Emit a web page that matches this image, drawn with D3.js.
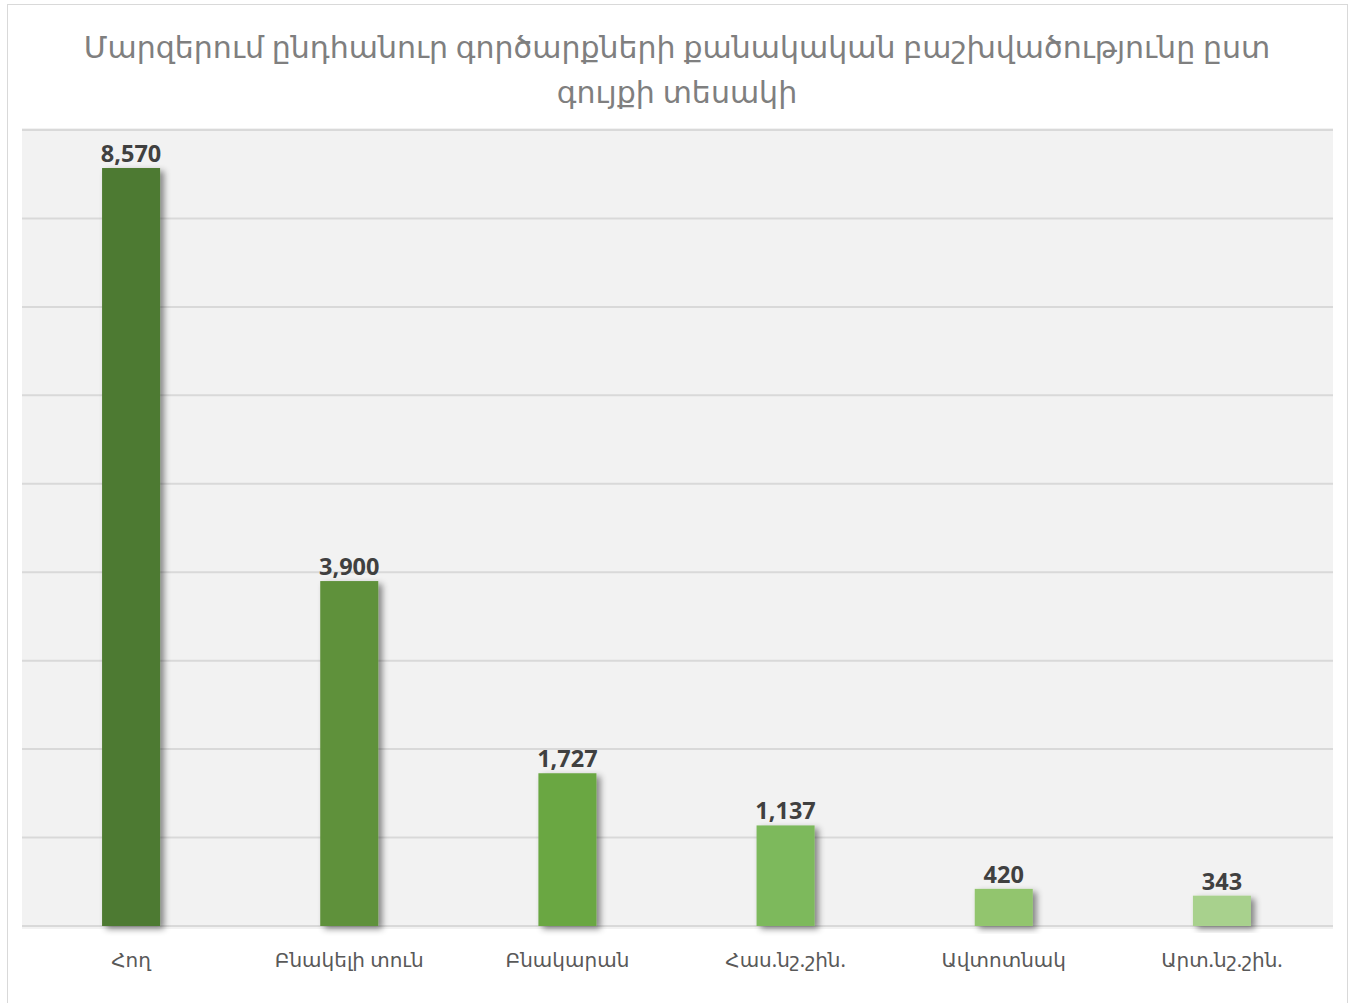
<!DOCTYPE html>
<html><head><meta charset="utf-8">
<script src="https://cdn.jsdelivr.net/npm/d3@7"></script>
<style>html,body{margin:0;padding:0;background:#fff;}svg{display:block;}</style>
</head><body>
<script>
const categories = ["Հող","Բնակելի տուն","Բնակարան","Հաս.նշ.շին.","Ավտոտնակ","Արտ.նշ.շին."];
const values = [8570,3900,1727,1137,420,343];
const barColors = ["#4e7a31","#5e913a","#6aa743","#7db95b","#92c56e","#a8d18d"];
const titleLines = ["Մարզերում ընդհանուր գործարքների քանակական բաշխվածությունը ըստ","գույքի տեսակի"];
const yTicks = [0,1000,2000,3000,4000,5000,6000,7000,8000,9000];

const W=1353,H=1003;
const svg=d3.select("body").append("svg").attr("width",W).attr("height",H);
const defs=svg.append("defs");
const f=defs.append("filter").attr("id","sh").attr("x","-20%").attr("y","-20%").attr("width","160%").attr("height","140%");
f.append("feDropShadow").attr("dx",4).attr("dy",3).attr("stdDeviation",3).attr("flood-color","#000").attr("flood-opacity",0.45);

svg.append("rect").attr("x",7.5).attr("y",4.5).attr("width",1340).attr("height",1010).attr("fill","#fff").attr("stroke","#d9d9d9").attr("stroke-width",1);

const plot={l:22,r:1333,t:128,b:929};
svg.append("rect").attr("x",plot.l).attr("y",plot.t).attr("width",plot.r-plot.l).attr("height",plot.b-plot.t).attr("fill","#f2f2f2");

const x=d3.scaleBand().domain(categories).range([plot.l,plot.r-2]).paddingInner(0.734).paddingOuter(0.367);
const y=d3.scaleLinear().domain([0,9000]).range([926,130]);

const font="'Noto Sans','DejaVu Sans',sans-serif";
svg.append("g").selectAll("line").data(yTicks).join("line")
  .attr("x1",plot.l).attr("x2",plot.r).attr("y1",d=>y(d)).attr("y2",d=>y(d))
  .attr("stroke","#d9d9d9").attr("stroke-width",2);

svg.append("g").selectAll("rect").data(values).join("rect")
  .attr("x",(d,i)=>x(categories[i])).attr("width",x.bandwidth())
  .attr("y",d=>y(d)).attr("height",d=>y(0)-y(d))
  .attr("fill",(d,i)=>barColors[i]).attr("filter","url(#sh)");

svg.append("g").selectAll("text").data(values).join("text")
  .attr("x",(d,i)=>x(categories[i])+x.bandwidth()/2).attr("y",d=>y(d)-6)
  .attr("text-anchor","middle").attr("font-family",font).attr("font-weight","bold")
  .attr("font-size",23.5).attr("fill","#404040").text(d=>d3.format(",")(d));

const xa=svg.append("g").attr("transform",`translate(0,${plot.b})`).call(d3.axisBottom(x).tickSize(0).tickPadding(24));
xa.select(".domain").remove();
xa.selectAll("text").attr("font-family",font).attr("font-size",20).attr("fill","#595959");

svg.append("g").selectAll("text").data(titleLines).join("text")
  .attr("x",677).attr("y",(d,i)=>58+i*45).attr("text-anchor","middle")
  .attr("font-family",font).attr("font-size",30).attr("fill","#7f7f7f").text(d=>d);
</script>
</body></html>
